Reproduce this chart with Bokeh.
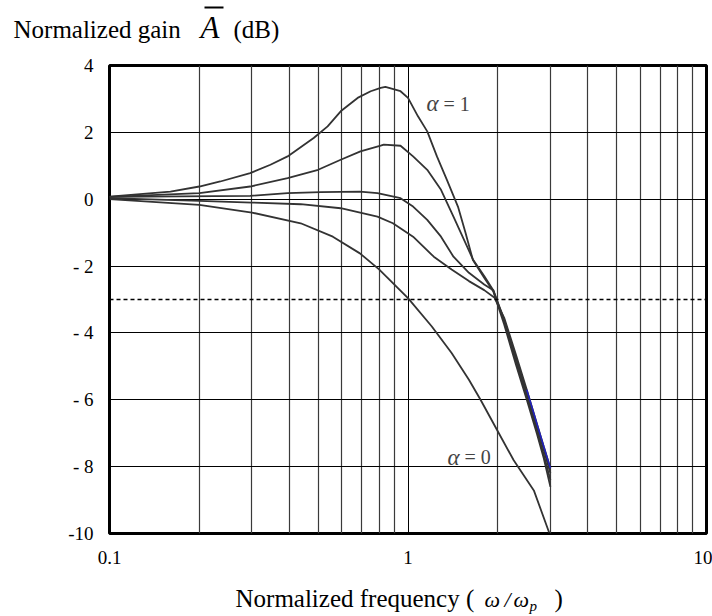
from bokeh.plotting import figure
from bokeh.models import Range1d, FixedTicker, Span, Label, BoxAnnotation
from bokeh.layouts import column
from bokeh.embed import file_html
from bokeh.resources import INLINE

# ---- data ----
freq_a = [0.1, 0.16, 0.2, 0.235, 0.296, 0.346, 0.395, 0.483, 0.538, 0.595, 0.678, 0.75, 0.81, 0.84,
          0.944, 1.0, 1.08, 1.16, 1.25, 1.35, 1.47, 1.56, 1.65, 1.8, 1.93, 2.1, 2.3, 2.5, 2.7, 2.85, 3.0]
gain_a = [0.08, 0.23, 0.38, 0.53, 0.78, 1.03, 1.28, 1.83, 2.18, 2.63, 3.03, 3.23, 3.33, 3.36,
          3.23, 3.03, 2.48, 2.03, 1.28, 0.58, -0.22, -1.02, -1.82, -2.35, -2.75, -3.75, -4.95, -6.0, -7.0, -7.75, -8.6]

freq_b = [0.1, 0.2, 0.296, 0.395, 0.5, 0.595, 0.693, 0.81, 0.83, 0.944, 1.04, 1.16, 1.29, 1.42, 1.56,
          1.65, 1.8, 1.93, 2.1, 2.3, 2.5, 2.7, 2.85, 3.0]
gain_b = [0.07, 0.18, 0.38, 0.63, 0.88, 1.18, 1.43, 1.6, 1.63, 1.6, 1.28, 0.88, 0.28, -0.52, -1.32,
          -1.8, -2.3, -2.72, -3.65, -4.85, -5.9, -6.9, -7.65, -8.4]

freq_c = [0.1, 0.296, 0.395, 0.51, 0.69, 0.79, 0.944, 1.04, 1.16, 1.29, 1.42, 1.6, 1.8, 1.93, 2.1,
          2.3, 2.5, 2.7, 2.85, 3.0]
gain_c = [0.07, 0.1, 0.18, 0.21, 0.23, 0.18, 0.03, -0.22, -0.62, -1.12, -1.72, -2.2, -2.55, -2.72, -3.6,
          -4.75, -5.8, -6.8, -7.5, -8.2]

freq_d = [0.1, 0.2, 0.3, 0.437, 0.595, 0.79, 0.89, 1.04, 1.22, 1.4, 1.6, 1.8, 1.95, 2.1, 2.3, 2.5,
          2.7, 2.85, 3.0]
gain_d = [0.03, -0.05, -0.1, -0.15, -0.27, -0.52, -0.72, -1.12, -1.72, -2.1, -2.45, -2.72, -2.95, -3.55,
          -4.65, -5.7, -6.7, -7.4, -8.05]

freq_e = [0.1, 0.2, 0.3, 0.437, 0.56, 0.69, 0.8, 1.0, 1.2, 1.4, 1.6, 1.75, 1.99, 2.26, 2.64, 2.97]
gain_e = [0.0, -0.17, -0.4, -0.72, -1.12, -1.62, -2.1, -2.96, -3.8, -4.6, -5.4, -6.0, -6.91, -7.81,
          -8.71, -9.97]

half_power_db = -3

y_ticks = [-10, -8, -6, -4, -2, 0, 2, 4]
y_tick_labels = ["-10", "- 8", "- 6", "- 4", "- 2", "0", "2", "4"]
x_ticks = [0.1, 1, 10]
x_tick_labels = ["0.1", "1", "10"]
x_minor_ticks = [0.2, 0.3, 0.4, 0.5, 0.6, 0.7, 0.8, 0.9, 2, 3, 4, 5, 6, 7, 8, 9]

FONT = "Liberation Serif"
W = 712
TOP_H, MAIN_H, BOT_H = 50, 525, 41


def no_align(f):
    try:
        f.frame_align = False
    except Exception:
        pass
    try:
        f.title = None
    except Exception:
        f.title.visible = False


def text_panel(h):
    f = figure(width=W, height=h, x_range=Range1d(0, W), y_range=Range1d(0, h),
               output_backend="svg", toolbar_location=None,
               x_axis_location=None, y_axis_location=None, min_border=0)
    f.xgrid.visible = False
    f.ygrid.visible = False
    f.outline_line_color = None
    f.background_fill_color = "white"
    f.border_fill_color = "white"
    no_align(f)
    return f


def put(f, h, text, px, py, size, style="normal"):
    # px: left edge, py: vertical middle, measured from the panel's top-left corner
    f.add_layout(Label(x=px, y=h - py, text=text, text_font=FONT, text_font_size=size,
                       text_font_style=style, text_baseline="middle", text_align="left",
                       text_color="black"))


# ---- title panel ----
top = text_panel(TOP_H)
put(top, TOP_H, "Normalized gain", 13, 28.6, "25px")
put(top, TOP_H, "A", 200, 26.5, "31px", "italic")
put(top, TOP_H, "(dB)", 233, 28.6, "25px")
# overline of the A
top.add_layout(BoxAnnotation(left=204, right=223, bottom=TOP_H - 8, top=TOP_H - 6,
                             fill_color="black", fill_alpha=1, line_color=None))

# ---- main plot ----
p = figure(width=W, height=MAIN_H, x_axis_type="log",
           x_range=Range1d(0.1, 10), y_range=Range1d(-10, 4),
           output_backend="svg", toolbar_location=None,
           min_border_left=109, min_border_right=6, min_border_top=15, min_border_bottom=42)
no_align(p)

p.background_fill_color = "white"
p.border_fill_color = "white"
p.outline_line_color = "black"
p.outline_line_width = 3

p.xaxis.ticker = FixedTicker(ticks=x_ticks, minor_ticks=x_minor_ticks)
p.yaxis.ticker = FixedTicker(ticks=y_ticks)
p.xaxis.major_label_overrides = {t: s for t, s in zip(x_ticks, x_tick_labels)}
p.yaxis.major_label_overrides = {t: s for t, s in zip(y_ticks, y_tick_labels)}
for ax in (p.xaxis[0], p.yaxis[0]):
    ax.axis_line_color = None
    ax.major_tick_line_color = None
    ax.minor_tick_line_color = None
    ax.major_label_text_font = FONT
    ax.major_label_text_font_size = "19px"
    ax.major_label_text_color = "black"
p.yaxis.major_label_standoff = 10
p.xaxis.major_label_standoff = 11

p.xgrid.grid_line_color = "black"
p.xgrid.grid_line_width = 1
p.xgrid.minor_grid_line_color = "#3a3a3a"
p.xgrid.minor_grid_line_width = 1.2
p.ygrid.grid_line_color = "black"
p.ygrid.grid_line_width = 1

p.add_layout(Span(location=half_power_db, dimension="width", line_color="black",
                  line_dash="4 3", line_width=1.5))

curve_color = "#333333"
for fx, gy in [(freq_a, gain_a), (freq_b, gain_b), (freq_c, gain_c), (freq_d, gain_d), (freq_e, gain_e)]:
    p.line(fx, gy, line_color=curve_color, line_width=1.8)
p.line(freq_d[-4:], gain_d[-4:], line_color="#2020c0", line_width=1.5)

p.add_layout(Label(x=1.153, y=2.86, text="α", text_font=FONT, text_font_style="italic",
                   text_font_size="23px", text_baseline="middle", text_align="left"))
p.add_layout(Label(x=1.153, y=2.86, x_offset=17, text="= 1", text_font=FONT,
                   text_font_size="20px", text_baseline="middle", text_align="left"))
p.add_layout(Label(x=1.356, y=-7.72, text="α", text_font=FONT, text_font_style="italic",
                   text_font_size="23px", text_baseline="middle", text_align="left"))
p.add_layout(Label(x=1.356, y=-7.72, x_offset=17, text="= 0", text_font=FONT,
                   text_font_size="20px", text_baseline="middle", text_align="left"))

# ---- x-axis title panel ----
bot = text_panel(BOT_H)
put(bot, BOT_H, "Normalized frequency (", 235, 22.6, "25px")
put(bot, BOT_H, "ω", 484, 23.6, "22px", "italic")
put(bot, BOT_H, "/", 504, 23.6, "22px", "italic")
put(bot, BOT_H, "ω", 513, 23.6, "22px", "italic")
put(bot, BOT_H, "p", 529, 30, "15px", "italic")
put(bot, BOT_H, ")", 554, 22.6, "25px")

layout = column(top, p, bot, spacing=0)
open("out.html", "w").write(file_html(layout, INLINE))
